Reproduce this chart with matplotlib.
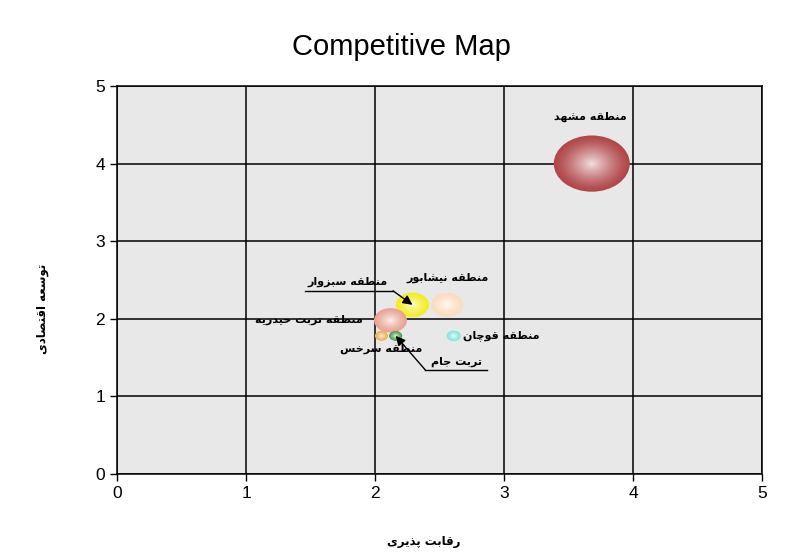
import numpy as np
import matplotlib.pyplot as plt
from matplotlib.patches import Ellipse
from matplotlib.colors import to_rgb

# data
regions = ['منطقه مشهد', 'منطقه نیشابور', 'منطقه سبزوار', 'منطقه تربت حیدریه',
           'منطقه قوچان', 'منطقه سرخس', 'تربت جام']
rivalry = [3.68, 2.56, 2.29, 2.12, 2.61, 2.05, 2.16]      # رقابت پذیری
growth = [4.00, 2.18, 2.18, 1.98, 1.78, 1.78, 1.78]       # توسعه اقتصادی
bubble = [76, 32, 33, 33, 14, 13, 13]
colors = ['#b0474a', '#fbdcbc', '#f2ee1c', '#e9a393', '#86e6dc', '#f2ad55', '#4e9e52']

# label placement (offset in data units from bubble) and leader lines
label_off = [(-0.01, 0.60), (0.0, 0.35), (-0.50, 0.29), (-0.63, 0.0),
             (0.37, 0.0), (0.0, -0.17), (0.47, -0.34)]
leaders = {2: [(1.457, 2.36), (2.14, 2.36)], 6: [(2.87, 1.34), (2.39, 1.34)]}

# ---- minimal Arabic/Persian shaping (matplotlib draws glyphs left to right)
forms = {
    'ا': (0xFE8D, 0xFE8E, None, None), 'ب': (0xFE8F, 0xFE90, 0xFE91, 0xFE92),
    'پ': (0xFB56, 0xFB57, 0xFB58, 0xFB59), 'ت': (0xFE95, 0xFE96, 0xFE97, 0xFE98),
    'ج': (0xFE9D, 0xFE9E, 0xFE9F, 0xFEA0), 'چ': (0xFB7A, 0xFB7B, 0xFB7C, 0xFB7D),
    'ح': (0xFEA1, 0xFEA2, 0xFEA3, 0xFEA4), 'خ': (0xFEA5, 0xFEA6, 0xFEA7, 0xFEA8),
    'د': (0xFEA9, 0xFEAA, None, None), 'ذ': (0xFEAB, 0xFEAC, None, None),
    'ر': (0xFEAD, 0xFEAE, None, None), 'ز': (0xFEAF, 0xFEB0, None, None),
    'س': (0xFEB1, 0xFEB2, 0xFEB3, 0xFEB4), 'ش': (0xFEB5, 0xFEB6, 0xFEB7, 0xFEB8),
    'ص': (0xFEB9, 0xFEBA, 0xFEBB, 0xFEBC), 'ط': (0xFEC1, 0xFEC2, 0xFEC3, 0xFEC4),
    'ع': (0xFEC9, 0xFECA, 0xFECB, 0xFECC), 'ق': (0xFED5, 0xFED6, 0xFED7, 0xFED8),
    'ل': (0xFEDD, 0xFEDE, 0xFEDF, 0xFEE0), 'م': (0xFEE1, 0xFEE2, 0xFEE3, 0xFEE4),
    'ن': (0xFEE5, 0xFEE6, 0xFEE7, 0xFEE8), 'ه': (0xFEE9, 0xFEEA, 0xFEEB, 0xFEEC),
    'و': (0xFEED, 0xFEEE, None, None), 'ی': (0xFBFC, 0xFBFD, 0xFBFE, 0xFBFF),
}


def shape(txt):
    out = []
    for i, ch in enumerate(txt):
        if ch not in forms:
            out.append(ch)
            continue
        prev = txt[i - 1] if i > 0 else ''
        nxt = txt[i + 1] if i + 1 < len(txt) else ''
        join_prev = prev in forms and forms[prev][2] is not None
        join_next = nxt in forms and forms[ch][2] is not None
        iso, fin, ini, med = forms[ch]
        if join_prev and join_next:
            c = med
        elif join_prev:
            c = fin
        elif join_next:
            c = ini
        else:
            c = iso
        out.append(chr(c))
    return ''.join(out)[::-1]


def light(c, t):
    c = np.array(to_rgb(c))
    return tuple(c + (1 - c) * t)


plt.rcParams['font.family'] = ['Liberation Sans', 'DejaVu Sans']
fig = plt.figure(figsize=(7.87, 5.54), dpi=100)
ax = fig.add_axes([0.1487, 0.1444, 0.8196, 0.7004])
ax.set_facecolor('#e8e8e8')
ax.set_xlim(0, 5)
ax.set_ylim(0, 5)
ax.set_xticks(range(6))
ax.set_yticks(range(6))
ax.grid(True, color='black', lw=1.1)
ax.set_axisbelow(True)
for s in ax.spines.values():
    s.set_color('black')
    s.set_linewidth(1.1)
ax.tick_params(labelsize=12.5, length=5, width=1, colors='black')

# pixels per data unit
ppx = 0.8196 * 787 / 5
ppy = 0.7004 * 554 / 5

for i in range(len(regions)):
    w = bubble[i] / ppx
    h = bubble[i] * 0.74 / ppy
    n = 25
    for k in range(n):
        f = 1 - k / n
        t = 0.85 * (1 - f) ** 1.3
        ax.add_patch(Ellipse((rivalry[i], growth[i]), w * f, h * f,
                             facecolor=light(colors[i], t), edgecolor='none', zorder=3 + i))

for i in range(len(regions)):
    dx, dy = label_off[i]
    tx, ty = rivalry[i] + dx, growth[i] + dy
    ax.text(tx, ty, shape(regions[i]), family='DejaVu Sans', fontsize=8,
            fontweight='bold', ha='center', va='center', zorder=20)
    if i in leaders:
        (x0, y0), (x1, y1) = leaders[i]
        ax.plot([x0, x1], [y0, y1], color='black', lw=1, zorder=20)
        ax.annotate('', xy=(rivalry[i], growth[i]), xytext=(x1, y1),
                    arrowprops=dict(arrowstyle='-|>', color='black', lw=1,
                                    mutation_scale=14, shrinkA=0, shrinkB=0),
                    zorder=21)

ax.set_xlabel(shape('رقابت پذیری'), family='DejaVu Sans', fontsize=8.5,
              fontweight='bold')
ax.xaxis.set_label_coords(0.476, -0.157)
ax.set_ylabel(shape('توسعه اقتصادی'), family='DejaVu Sans', fontsize=8.5,
              fontweight='bold')
ax.yaxis.set_label_coords(-0.105, 0.425)
fig.suptitle('Competitive Map', x=0.51, y=0.94, fontsize=21)

fig.savefig('out.png', dpi=100)
